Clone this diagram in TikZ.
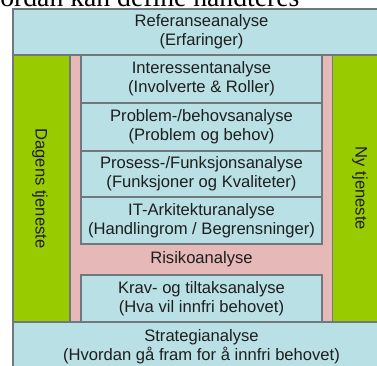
\documentclass[tikz,border=0pt]{standalone}
\usepackage{fontspec}
\setmainfont{Liberation Sans}
\newfontfamily\headfont{Liberation Serif}
\usetikzlibrary{positioning}
\definecolor{bandblue}{RGB}{185,224,228}
\definecolor{sidegreen}{RGB}{153,204,0}
\definecolor{riskpink}{RGB}{230,184,183}
\definecolor{edgegray}{RGB}{110,120,125}
\definecolor{textgray}{RGB}{30,30,30}

\begin{document}
\begin{tikzpicture}[
    x=1pt, y=1pt,
    box/.style={draw=edgegray, line width=1.1pt, inner sep=0pt, outer sep=0pt, align=center, text=textgray, font=\fontsize{16.6}{19}\selectfont},
    band/.style={box, fill=bandblue, minimum width=377pt},
    stage/.style={box, fill=bandblue, minimum width=241pt, minimum height=48pt},
    side/.style={box, fill=sidegreen, minimum width=57pt, minimum height=267pt},
    sidetext/.style={rotate=-90, text=textgray, font=\fontsize{16.6}{19}\selectfont}
]
    \useasboundingbox (0,0) rectangle (377,365);
    \clip (0,0) rectangle (377,365);

    % 1. Heading, cut off by the page edge
    \node[anchor=base east, font=\headfont\fontsize{27.7}{32}\selectfont] (head) at (303,358) {Hvordan kan define håndteres};

    % 2. Side columns (today / new service)
    \node[side] (today) at (41.5,176.5) {};
    \node[side] (newsvc) at (360.5,176.5) {};
    \node[sidetext] (todaytext) at (40,176.5) {Dagens tjeneste};
    \node[sidetext] (newtext) at (360,176.5) {Ny tjeneste};

    % 3. Risk frame behind the analysis stack
    \node[box, fill=riskpink, minimum width=262pt, minimum height=267pt] (risk) at (201.5,176.5) {};
    \node[text=textgray, font=\fontsize{16.6}{19}\selectfont] (risktext) at (201.5,105.5) {Risikoanalyse};

    % 4. Analysis stack
    \node[stage, anchor=north] (intr) at (201.5,310) {Interessentanalyse\\(Involverte \& Roller)};
    \node[stage, below=0pt of intr] (prob) {Problem-/behovsanalyse\\(Problem og behov)};
    \node[stage, below=0pt of prob, minimum height=46pt] (proc) {Prosess-/Funksjonsanalyse\\(Funksjoner og Kvaliteter)};
    \node[stage, below=0pt of proc, minimum height=47pt] (arch) {IT-Arkitekturanalyse\\(Handlingrom / Begrensninger)};
    \node[stage, minimum height=47pt] (req) at (201.5,66.5) {Krav- og tiltaksanalyse\\(Hva vil innfri behovet)};

    % 5. Top and bottom bands
    \node[band, minimum height=46pt] (ref) at (201.5,333) {Referanseanalyse\\(Erfaringer)};
    \node[band, minimum height=50pt] (strat) at (201.5,18) {Strategianalyse\\(Hvordan gå fram for å innfri behovet)};

\end{tikzpicture}
\end{document}
